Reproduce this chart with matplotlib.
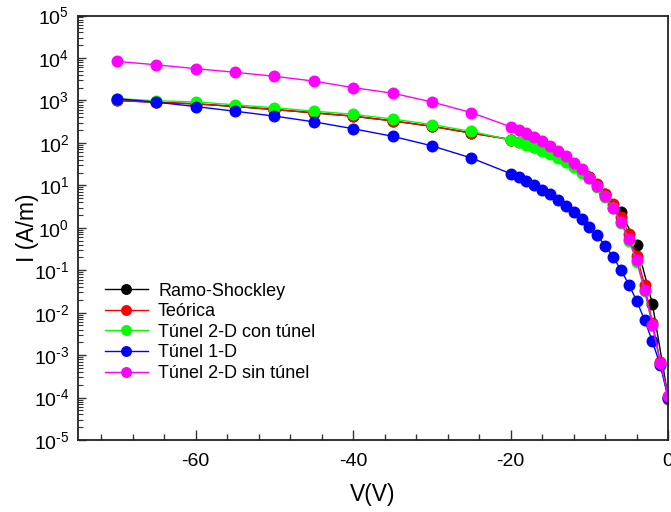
import matplotlib
matplotlib.use('Agg')
import matplotlib.pyplot as plt
from matplotlib.ticker import LogLocator, MultipleLocator, NullFormatter, FuncFormatter
import numpy as np

plt.rcParams['font.family'] = ['Liberation Sans', 'DejaVu Sans']
plt.rcParams['mathtext.fontset'] = 'custom'
plt.rcParams['mathtext.rm'] = 'Liberation Sans'
plt.rcParams['mathtext.it'] = 'Liberation Sans'
plt.rcParams['axes.unicode_minus'] = False

# voltages
v_coarse = [-70, -65, -60, -55, -50, -45, -40, -35, -30, -25]
v_fine = [-20, -19, -18, -17, -16, -15, -14, -13, -12, -11, -10,
          -9, -8, -7, -6, -5, -4, -3, -2, -1, 0]
v_ramo = [-70, -65, -60, -55, -50, -45, -40, -35, -30, -25,
          -20, -18, -16, -14, -12, -10, -8, -6, -4, -2, 0]

# currents (A/m)
i_ramo = [1000, 900, 830, 720, 610, 510, 425, 330, 245, 170,
          120, 94, 69, 47, 29.5, 16, 6.4, 2.4, 0.40, 0.016, 1e-4]
i_teorica = [1000, 900, 830, 720, 610, 510, 425, 330, 245, 170,
             120, 106, 94, 82, 69, 58, 47, 38, 29.5, 22.5, 16,
             11, 6.4, 3.7, 1.8, 0.72, 0.22, 0.045, 0.0058, 6.8e-4, 9.5e-5]
i_2d_con = [1100, 980, 920, 790, 670, 560, 470, 365, 270, 186,
            117, 103, 91, 79, 66, 55, 44, 35, 27, 20, 14.5,
            9.3, 5.3, 2.85, 1.3, 0.5, 0.16, 0.033, 0.005, 6.3e-4, 1e-4]
i_1d = [1100, 910, 716, 556, 427, 313, 215, 143, 85, 44,
        18.8, 15.7, 12.6, 10, 7.9, 6.1, 4.47, 3.3, 2.35, 1.6, 1.05,
        0.66, 0.376, 0.205, 0.102, 0.046, 0.019, 0.0067, 0.0021, 5.7e-4, 1e-4]
i_2d_sin = [8300, 6900, 5600, 4600, 3700, 2850, 2000, 1480, 920, 515,
            239, 200, 168, 135, 109, 86, 66, 48, 34, 23.7, 15.1,
            9.7, 5.6, 3.0, 1.4, 0.54, 0.17, 0.035, 0.0052, 6.6e-4, 1.1e-4]

v_all = v_coarse + v_fine

fig = plt.figure(figsize=(6.71, 5.12), dpi=100)
ax = fig.add_axes([0.1157, 0.1406, 0.8801, 0.8291])

ms = 7.6
ax.plot(v_ramo, i_ramo, '-o', color='#000000', lw=1, ms=ms, label='Ramo-Shockley')
ax.plot(v_all, i_teorica, '-o', color='#ff0000', lw=1, ms=ms, label='Teórica')
ax.plot(v_all, i_2d_con, '-o', color='#00ff00', lw=1, ms=ms, label='Túnel 2-D con túnel')
ax.plot(v_all, i_1d, '-o', color='#0000ff', lw=1, ms=ms, label='Túnel 1-D')
ax.plot(v_all, i_2d_sin, '-o', color='#ff00ff', lw=1, ms=ms, label='Túnel 2-D sin túnel')

ax.set_yscale('log')
ax.set_ylim(1e-5, 1e5)
ax.set_xlim(-75, 0)


def dec_label(y, pos):
    e = int(round(np.log10(y)))
    if e < 0:
        return r'$\mathregular{10^{\text{-}%d}}$' % (-e)
    return r'$\mathregular{10^{%d}}$' % e


ax.xaxis.set_major_locator(MultipleLocator(20))
ax.xaxis.set_minor_locator(MultipleLocator(4))
ax.yaxis.set_major_locator(LogLocator(base=10, numticks=20))
ax.yaxis.set_major_formatter(FuncFormatter(dec_label))
ax.yaxis.set_minor_locator(LogLocator(base=10, subs=range(2, 10), numticks=20))
ax.yaxis.set_minor_formatter(NullFormatter())

ax.tick_params(which='both', direction='in', top=False, right=False,
               labelsize=14, color='#333333')
ax.tick_params(axis='x', which='major', length=7, width=1, pad=9)
ax.tick_params(axis='x', which='minor', length=4, width=1)
ax.tick_params(axis='y', which='major', length=6, width=1, pad=6)
ax.tick_params(axis='y', which='minor', length=3.5, width=0.8)

for s in ax.spines.values():
    s.set_linewidth(1.3)
    s.set_color('#222222')

ax.set_xlabel('V(V)', fontsize=16.5)
ax.set_ylabel('I (A/m)', fontsize=16.5)
ax.xaxis.set_label_coords(0.5, -0.101)
ax.yaxis.set_label_coords(-0.066, 0.5)

ax.legend(loc='upper left', bbox_to_anchor=(0.046, 0.371), frameon=False,
          fontsize=13, handlelength=2.4, handletextpad=0.55,
          labelspacing=0.2, borderpad=0, borderaxespad=0, markerscale=0.9)

plt.savefig('out.png', dpi=100)
